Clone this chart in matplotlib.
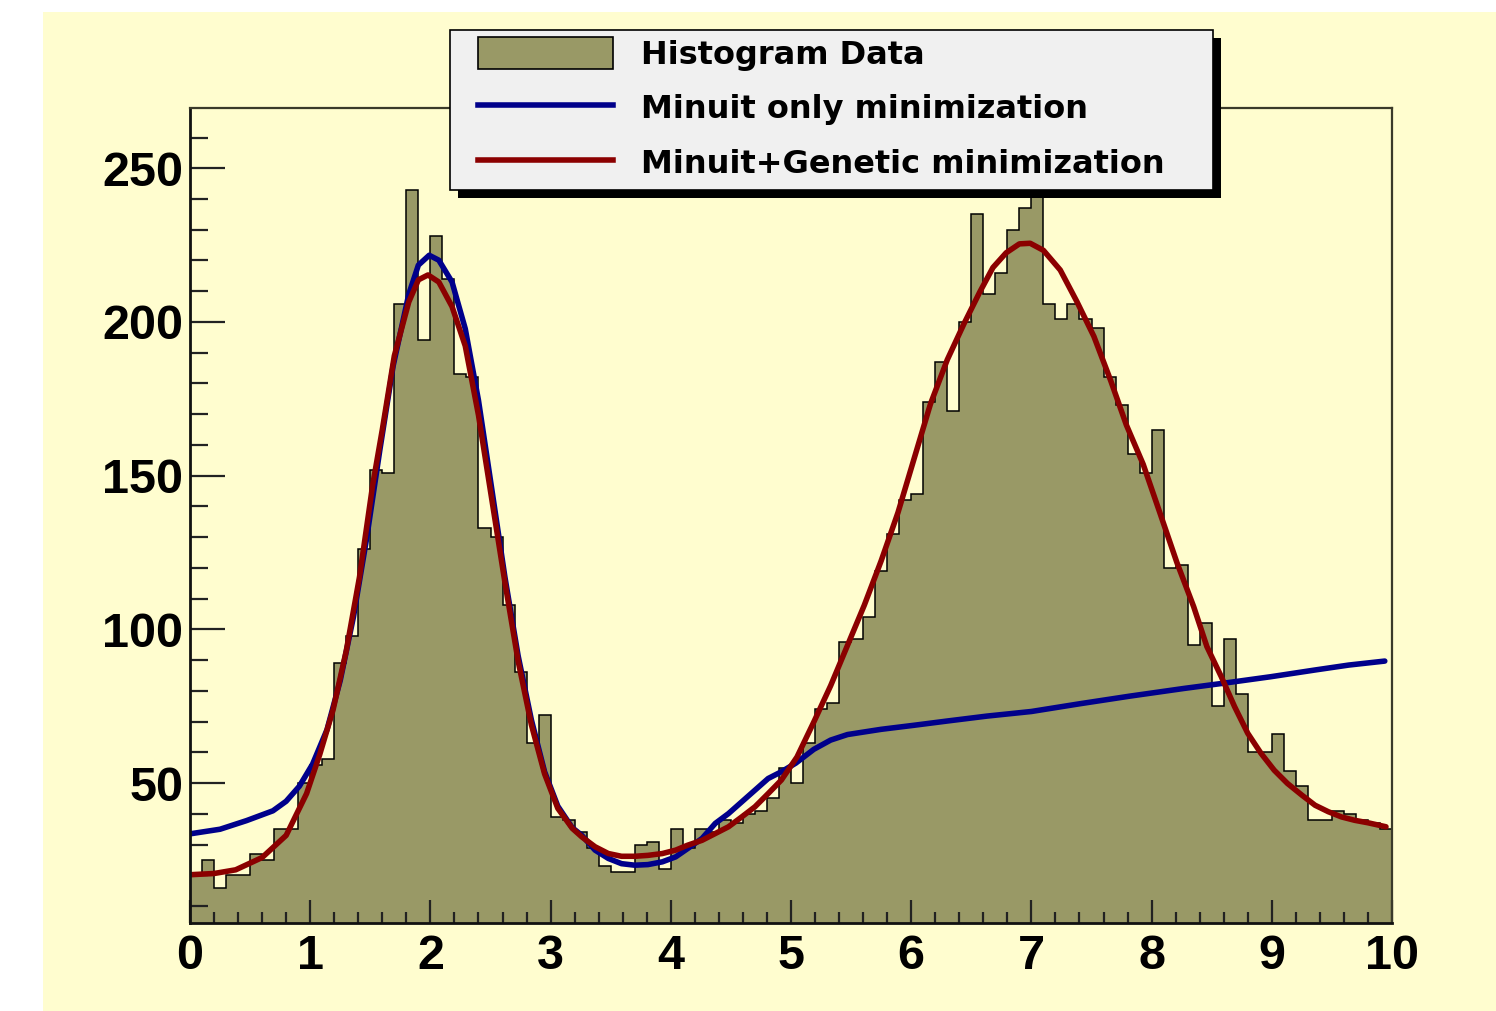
import numpy as np
import matplotlib
matplotlib.use("Agg")
import matplotlib.pyplot as plt
from matplotlib.patches import Rectangle, Patch
from matplotlib.lines import Line2D
from matplotlib.ticker import MultipleLocator

# --- Data ---
X_MIN, X_MAX, N_BINS = 0.0, 10.0, 100

# histogram contents, one value per 0.1 wide bin
counts = [
    20, 25, 16, 20, 20, 27, 25, 35, 35, 50,
    56, 58, 89, 98, 126, 152, 151, 206, 243, 194,
    228, 214, 183, 182, 133, 130, 108, 86, 63, 72,
    39, 38, 34, 29, 23, 21, 21, 30, 31, 22,
    35, 29, 35, 34, 38, 37, 40, 41, 45, 55,
    50, 63, 74, 76, 96, 97, 104, 119, 131, 142,
    144, 174, 187, 171, 200, 235, 209, 216, 230, 237,
    257, 206, 201, 206, 201, 198, 182, 173, 157, 151,
    165, 120, 121, 95, 102, 75, 97, 79, 60, 60,
    66, 54, 49, 38, 38, 41, 40, 38, 37, 35,
]

# Minuit only fit
blue_x = [0.00, 0.25, 0.47, 0.69, 0.80, 0.91, 1.02, 1.14, 1.25, 1.36,
          1.47, 1.58, 1.69, 1.82, 1.90, 1.99, 2.07, 2.18, 2.29, 2.40,
          2.51, 2.62, 2.73, 2.84, 2.95, 3.06, 3.18, 3.26, 3.37, 3.48,
          3.59, 3.70, 3.81, 3.93, 4.04, 4.14, 4.26, 4.37, 4.48, 4.59,
          4.70, 4.81, 4.92, 5.04, 5.19, 5.33, 5.47, 5.75, 6.02, 6.30,
          6.63, 7.00, 7.40, 7.82, 8.27, 8.60, 8.99, 9.36, 9.64, 9.94]
blue_y = [33.5, 35.0, 37.8, 41.0, 44.1, 49.0, 56.2, 67.4, 83.4, 104.1,
          129.7, 158.5, 185.7, 209.0, 218.5, 221.7, 220.1, 213.0, 197.8, 174.5,
          145.8, 117.0, 91.4, 70.6, 53.7, 42.5, 35.5, 33.0, 28.2, 25.5,
          23.8, 23.3, 23.5, 24.4, 26.0, 28.7, 32.0, 36.9, 40.1, 43.9,
          47.7, 51.5, 53.7, 56.5, 61.0, 64.0, 65.8, 67.5, 68.8, 70.2,
          71.8, 73.3, 75.8, 78.3, 80.8, 82.5, 84.6, 86.8, 88.4, 89.7]

# Minuit+Genetic fit
red_x = [0.00, 0.20, 0.38, 0.60, 0.80, 0.97, 1.08, 1.19, 1.30, 1.41,
         1.52, 1.60, 1.70, 1.82, 1.90, 1.98, 2.07, 2.18, 2.29, 2.40,
         2.51, 2.62, 2.73, 2.84, 2.95, 3.06, 3.18, 3.26, 3.37, 3.48,
         3.59, 3.70, 3.81, 3.93, 4.04, 4.14, 4.26, 4.37, 4.48, 4.59,
         4.70, 4.81, 4.92, 5.05, 5.19, 5.33, 5.47, 5.61, 5.75, 5.89,
         6.02, 6.16, 6.30, 6.44, 6.57, 6.68, 6.79, 6.90, 6.99, 7.10,
         7.24, 7.38, 7.52, 7.66, 7.79, 7.93, 8.07, 8.21, 8.35, 8.46,
         8.58, 8.69, 8.80, 8.91, 9.02, 9.13, 9.25, 9.36, 9.47, 9.58,
         9.69, 9.80, 9.95]
red_y = [20.2, 20.6, 21.8, 25.8, 33.0, 46.6, 59.4, 73.8, 93.0, 117.0,
         147.0, 165.0, 189.0, 206.5, 213.7, 215.3, 213.0, 205.0, 192.2, 169.7,
         142.5, 115.3, 89.7, 69.0, 53.0, 41.8, 35.3, 32.5, 29.3, 27.1,
         26.2, 26.2, 26.5, 27.1, 28.2, 29.8, 31.4, 33.6, 35.8, 39.0,
         42.3, 46.6, 51.0, 58.5, 69.9, 81.7, 94.8, 107.9, 122.3, 138.0,
         155.0, 173.3, 187.7, 199.5, 209.7, 217.7, 222.5, 225.4, 225.6, 223.3,
         216.9, 206.5, 195.3, 180.9, 166.5, 153.7, 137.8, 121.8, 107.4, 94.4,
         84.6, 74.9, 66.2, 59.7, 54.2, 49.9, 46.1, 42.8, 40.7, 39.0,
         37.9, 37.1, 35.8]

x_ticks = list(range(0, 11))
y_ticks = [50, 100, 150, 200, 250]
legend_labels = ["Histogram Data", "Minuit only minimization",
                 "Minuit+Genetic minimization"]

# --- Style ---
W, H = 1496, 1011
BG = "#FFFDCF"
OLIVE = "#999966"
BLUE = "#00008B"
RED = "#8B0000"
TICK_FONT = ["Liberation Sans", "DejaVu Sans"]


def px_x(p):
    return p / W


def px_y(p):
    # pixel row measured from top -> figure fraction from bottom
    return 1 - p / H


def main():
    plt.rcParams["font.family"] = TICK_FONT
    plt.rcParams["font.weight"] = "bold"

    fig = plt.figure(figsize=(W / 100, H / 100), dpi=100)
    fig.patch.set_facecolor("white")
    fig.add_artist(Rectangle((px_x(43), 0), 1 - px_x(43), px_y(12),
                             transform=fig.transFigure, facecolor=BG,
                             edgecolor="none", zorder=-10))

    ax = fig.add_axes([px_x(190), px_y(923), px_x(1392 - 190), (923 - 108) / H])
    ax.set_facecolor(BG)

    edges = np.linspace(X_MIN, X_MAX, N_BINS + 1)
    ax.stairs(counts, edges, baseline=0, fill=True, color=OLIVE, lw=0, zorder=1)
    ax.stairs(counts, edges, baseline=0, color="black", lw=1.1, zorder=1.1)

    ax.plot(blue_x, blue_y, color=BLUE, lw=4, solid_capstyle="round", zorder=2)
    ax.plot(red_x, red_y, color=RED, lw=4, solid_capstyle="round", zorder=2.1)

    ax.set_xlim(X_MIN, X_MAX)
    ax.set_ylim(4.5, 269.6)

    ax.set_xticks(x_ticks)
    ax.set_yticks(y_ticks)
    ax.xaxis.set_minor_locator(MultipleLocator(0.2))
    ax.yaxis.set_minor_locator(MultipleLocator(10))
    ax.tick_params(axis="x", which="major", direction="in", length=16.5,
                   width=1.6, color="#222222", pad=8, labelsize=35)
    ax.tick_params(axis="x", which="minor", direction="in", length=8,
                   width=1.6, color="#222222")
    ax.tick_params(axis="y", which="major", direction="in", length=25,
                   width=1.6, color="#222222", pad=5, labelsize=35)
    ax.tick_params(axis="y", which="minor", direction="in", length=13,
                   width=1.6, color="#222222")

    for side in ["left", "bottom"]:
        ax.spines[side].set_linewidth(2)
        ax.spines[side].set_color("#111111")
    for side in ["top", "right"]:
        ax.spines[side].set_linewidth(1.6)
        ax.spines[side].set_color("#3a3a2a")

    # legend box with a hard black shadow, like the ROOT TLegend
    fig.add_artist(Rectangle((px_x(458), px_y(198)), px_x(1221 - 458), (198 - 38) / H,
                             transform=fig.transFigure, facecolor="black",
                             edgecolor="none", zorder=3))
    fig.add_artist(Rectangle((px_x(450), px_y(190)), px_x(1213 - 450), (190 - 30) / H,
                             transform=fig.transFigure, facecolor="#F0F0F0",
                             edgecolor="black", lw=1.2, zorder=4))

    handles = [
        Patch(facecolor=OLIVE, edgecolor="black", lw=1.2),
        Line2D([], [], color=BLUE, lw=4),
        Line2D([], [], color=RED, lw=4),
    ]
    leg = fig.legend(handles, legend_labels, loc="upper left",
                     bbox_to_anchor=(px_x(478), px_y(37)),
                     bbox_transform=fig.transFigure, frameon=False,
                     prop={"family": ["DejaVu Sans"], "weight": "bold", "size": 23},
                     handlelength=4.23, handleheight=1.15, handletextpad=0.88,
                     labelspacing=0.66, borderpad=0, borderaxespad=0)
    leg.set_zorder(5)

    fig.savefig("out.png", dpi=100, facecolor=fig.get_facecolor())


if __name__ == "__main__":
    main()
